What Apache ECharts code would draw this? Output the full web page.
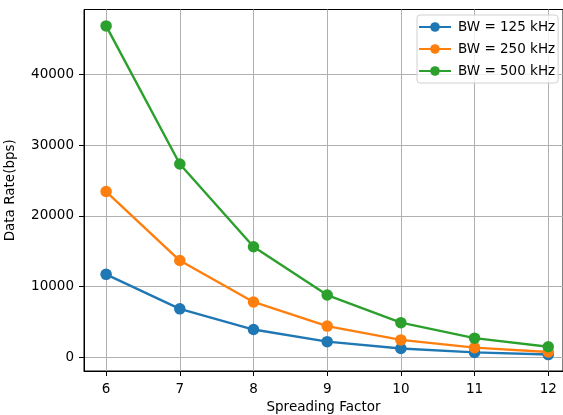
<!DOCTYPE html>
<html><head><meta charset="utf-8">
<script src="https://cdn.jsdelivr.net/npm/echarts@6/dist/echarts.min.js"></script>
<style>html,body{margin:0;padding:0;background:#fff}#c{width:563px;height:415px}</style>
</head><body><div id="c"></div>
<script>
const spreadingFactors = [6, 7, 8, 9, 10, 11, 12];
const bw125 = [11718.75, 6835.94, 3906.25, 2197.27, 1220.70, 671.39, 366.21];
const bw250 = [23437.5, 13671.88, 7812.5, 4394.53, 2441.41, 1342.77, 732.42];
const bw500 = [46875, 27343.75, 15625, 8789.06, 4882.81, 2685.55, 1464.84];
const seriesNames = ['BW = 125 kHz', 'BW = 250 kHz', 'BW = 500 kHz'];
const colors = ['#1f77b4', '#ff7f0e', '#2ca02c'];
const yTicks = [0, 10000, 20000, 30000, 40000];
const xTicks = [6, 7, 8, 9, 10, 11, 12];

const font = 'DejaVu Sans';
const fs = 13.5;
const chart = echarts.init(document.getElementById('c'));
function mk(name, vals, color) {
  return {
    name: name, type: 'line', data: spreadingFactors.map((x, i) => [x, vals[i]]),
    symbol: 'circle', symbolSize: 11.5, showSymbol: true,
    lineStyle: { width: 2.4, color: color }, itemStyle: { color: color },
    emphasis: { disabled: true }, animation: false
  };
}
chart.setOption({
  animation: false,
  grid: { left: 84, top: 9.5, right: 0, bottom: 44, outerBoundsMode: 'none', containLabel: false, show: true, borderColor: '#000', borderWidth: 1, backgroundColor: 'transparent' },
  legend: {
    orient: 'vertical', left: 417, top: 15, itemWidth: 32, itemHeight: 12, itemGap: 8,
    padding: [5, 3, 5, 1],
    backgroundColor: 'rgba(255,255,255,0.8)', borderColor: '#d0d0d0', borderWidth: 1, borderRadius: 3,
    textStyle: { fontFamily: font, fontSize: fs, color: '#000', padding: [0, 0, 0, 2] },
    data: seriesNames
  },
  xAxis: {
    type: 'value', min: 5.7, max: 12.2,
    name: 'Spreading Factor', nameLocation: 'middle', nameGap: 27,
    nameTextStyle: { fontFamily: font, fontSize: fs, color: '#000' },
    axisLine: { show: true, onZero: false, lineStyle: { color: '#000', width: 1 } },
    axisTick: { show: true, length: 5, lineStyle: { color: '#000' }, customValues: xTicks },
    axisLabel: { fontFamily: font, fontSize: fs, color: '#000', margin: 11, customValues: xTicks },
    splitLine: { show: true, lineStyle: { color: '#b0b0b0', width: 1 } }
  },
  yAxis: {
    type: 'value', min: -1959.2, max: 49200.4,
    name: 'Data Rate(bps)', nameLocation: 'middle', nameGap: 67, nameRotate: 90, nameMoveOverlap: false,
    nameTextStyle: { fontFamily: font, fontSize: fs, color: '#000' },
    axisLine: { show: true, onZero: false, lineStyle: { color: '#000', width: 1 } },
    axisTick: { show: true, length: 5, lineStyle: { color: '#000' }, customValues: yTicks },
    axisLabel: { fontFamily: font, fontSize: fs, color: '#000', margin: 10, customValues: yTicks, formatter: v => String(v) },
    splitLine: { show: true, lineStyle: { color: '#b0b0b0', width: 1 } }
  },
  series: [mk(seriesNames[0], bw125, colors[0]), mk(seriesNames[1], bw250, colors[1]), mk(seriesNames[2], bw500, colors[2])]
});
</script></body></html>
